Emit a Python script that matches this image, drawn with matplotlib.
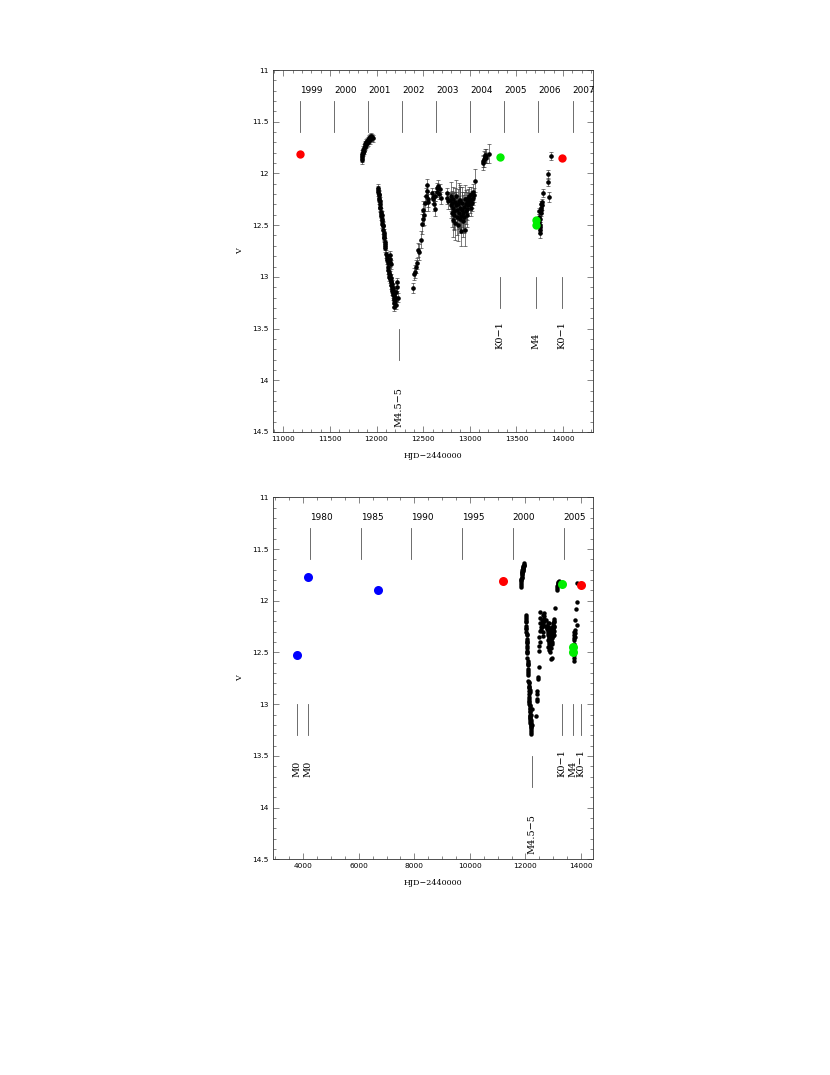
import matplotlib
matplotlib.use("Agg")
import matplotlib.pyplot as plt
from matplotlib.ticker import MultipleLocator, FormatStrFormatter

# ---------------- data ----------------
# season 2000
jd_a = [11840, 11843, 11846, 11849, 11852, 11856, 11860, 11864, 11868, 11872, 11876, 11880,
        11885, 11890, 11895, 11900, 11905, 11910, 11916, 11922, 11928, 11935, 11942, 11950, 11958]
v_a = [11.87, 11.85, 11.83, 11.81, 11.80, 11.79, 11.77, 11.78, 11.75, 11.74, 11.73, 11.72,
       11.72, 11.70, 11.71, 11.69, 11.68, 11.70, 11.67, 11.66, 11.68, 11.65, 11.64, 11.65, 11.66]
e_a = [0.035] * len(jd_a)

# season 2001 (decline)
jd_b = [12015, 12017, 12020, 12022, 12025, 12028, 12030, 12033, 12036, 12039, 12042, 12045,
        12048, 12051, 12054, 12057, 12060, 12063, 12066, 12069, 12072, 12075, 12078, 12081,
        12084, 12087, 12090, 12093, 12096, 12105, 12110, 12112, 12115, 12118, 12120, 12140,
        12143, 12146, 12150, 12125, 12130, 12135, 12138, 12142, 12148, 12152, 12155, 12158,
        12160, 12163, 12165, 12168, 12170, 12172, 12175, 12178, 12180, 12183, 12185, 12188,
        12190, 12192, 12195, 12198, 12200, 12205, 12210, 12215, 12220, 12225]
v_b = [12.14, 12.16, 12.18, 12.21, 12.20, 12.24, 12.26, 12.27, 12.30, 12.33, 12.32, 12.37,
       12.39, 12.41, 12.40, 12.44, 12.46, 12.49, 12.51, 12.50, 12.55, 12.58, 12.60, 12.62,
       12.61, 12.66, 12.68, 12.70, 12.72, 12.78, 12.80, 12.84, 12.82, 12.87, 12.90, 12.79,
       12.83, 12.86, 12.88, 12.93, 12.95, 12.97, 13.00, 12.98, 13.02, 13.05, 13.01, 13.08,
       13.04, 13.10, 13.07, 13.12, 13.14, 13.11, 13.16, 13.18, 13.13, 13.20, 13.22, 13.17,
       13.25, 13.29, 13.23, 13.19, 13.21, 13.15, 13.27, 13.10, 13.05, 13.20]
e_b = [0.04] * len(jd_b)

# season 2002 (recovery)
jd_c = [12387, 12405, 12412, 12423, 12430, 12447, 12452, 12476, 12484, 12494, 12501, 12510,
        12519, 12526, 12537, 12540, 12548, 12555, 12597, 12600, 12608, 12615, 12622, 12630,
        12644, 12652, 12660, 12670, 12680, 12687]
v_c = [13.11, 12.97, 12.95, 12.90, 12.87, 12.74, 12.76, 12.64, 12.49, 12.44, 12.35, 12.40,
       12.29, 12.22, 12.11, 12.17, 12.25, 12.28, 12.19, 12.23, 12.25, 12.30, 12.34, 12.22,
       12.14, 12.18, 12.12, 12.20, 12.15, 12.24]
e_c = [0.05, 0.06, 0.06, 0.06, 0.05, 0.07, 0.08, 0.08, 0.10, 0.07, 0.08, 0.10,
       0.07, 0.08, 0.06, 0.06, 0.07, 0.08, 0.05, 0.06, 0.05, 0.06, 0.07, 0.05,
       0.05, 0.05, 0.06, 0.05, 0.05, 0.06]

# season 2003 (noisy plateau)
jd_d = [12752, 12760, 12770, 12787, 12795, 12800, 12805, 12810, 12815, 12820, 12825, 12830,
        12835, 12840, 12845, 12850, 12855, 12860, 12865, 12870, 12875, 12880, 12885, 12890,
        12895, 12900, 12905, 12910, 12915, 12920, 12925, 12930, 12935, 12940, 12945, 12950,
        12955, 12960, 12965, 12970, 12975, 12980, 12985, 12990, 12995, 13000, 13005, 13010,
        13015, 13020, 13025, 13030, 13035, 13040, 13055]
v_d = [12.19, 12.24, 12.27, 12.26, 12.31, 12.22, 12.38, 12.29, 12.45, 12.33, 12.25, 12.40,
       12.36, 12.28, 12.48, 12.31, 12.22, 12.42, 12.35, 12.30, 12.50, 12.27, 12.38, 12.44,
       12.33, 12.26, 12.41, 12.56, 12.35, 12.29, 12.46, 12.38, 12.32, 12.42, 12.25, 12.55,
       12.36, 12.30, 12.40, 12.28, 12.34, 12.24, 12.31, 12.27, 12.22, 12.30, 12.26, 12.33,
       12.20, 12.25, 12.29, 12.18, 12.24, 12.21, 12.07]
e_d = [0.05, 0.06, 0.07, 0.08, 0.12, 0.14, 0.14, 0.12, 0.16, 0.14, 0.12, 0.15,
       0.18, 0.14, 0.16, 0.13, 0.16, 0.18, 0.14, 0.15, 0.15, 0.18, 0.16, 0.14,
       0.20, 0.15, 0.16, 0.14, 0.17, 0.16, 0.15, 0.17, 0.14, 0.16, 0.14, 0.15,
       0.13, 0.14, 0.12, 0.10, 0.11, 0.09, 0.10, 0.08, 0.09, 0.08, 0.07, 0.08,
       0.07, 0.08, 0.07, 0.08, 0.07, 0.07, 0.11]

# season 2004 (bright)
jd_e = [13140, 13145, 13150, 13158, 13163, 13170, 13175, 13208]
v_e = [11.88, 11.90, 11.86, 11.84, 11.82, 11.83, 11.85, 11.81]
e_e = [0.06, 0.07, 0.08, 0.05, 0.06, 0.07, 0.05, 0.09]

# season 2005/2006
jd_f = [13738, 13742, 13745, 13748, 13750, 13752, 13755, 13757, 13760, 13762, 13765, 13768,
        13771, 13774, 13787, 13834, 13841, 13851, 13866]
v_f = [12.36, 12.42, 12.47, 12.52, 12.55, 12.58, 12.50, 12.44, 12.38, 12.33, 12.30, 12.35,
       12.31, 12.28, 12.19, 12.08, 12.01, 12.23, 11.83]
e_f = [0.03, 0.03, 0.03, 0.03, 0.03, 0.04, 0.03, 0.03, 0.03, 0.03, 0.03, 0.03,
       0.04, 0.03, 0.04, 0.04, 0.04, 0.05, 0.04]

seasons = [(jd_a, v_a, e_a), (jd_b, v_b, e_b), (jd_c, v_c, e_c),
           (jd_d, v_d, e_d), (jd_e, v_e, e_e), (jd_f, v_f, e_f)]

red_jd = [11180, 13990]
red_v = [11.81, 11.85]
green_jd = [13325, 13708, 13708]
green_v = [11.84, 12.45, 12.50]
blue_jd = [3784, 4158, 6700]
blue_v = [12.525, 11.77, 11.90]

years_top = ["1999", "2000", "2001", "2002", "2003", "2004", "2005", "2006", "2007"]
years_top_jd = [11179, 11544, 11910, 12275, 12640, 13005, 13371, 13736, 14101]
years_bot = ["1980", "1985", "1990", "1995", "2000", "2005"]
years_bot_jd = [4239, 6066, 7892, 9718, 11544, 13371]

spec_top = ["M4.5\u22125", "K0\u22121", "M4", "K0\u22121"]
spec_top_jd = [12240, 13320, 13705, 13985]
spec_bot = ["M0", "M0", "M4.5\u22125", "K0\u22121", "M4", "K0\u22121"]
spec_bot_jd = [3784, 4169, 12240, 13320, 13705, 13985]

# ---------------- figure ----------------
plt.rcParams['font.family'] = ['DejaVu Sans']
SERIF = ['DejaVu Serif']
fig = plt.figure(figsize=(8.30, 10.75), dpi=100)
ax1 = fig.add_axes([0.3289, 0.59814, 0.3855, 0.33674])
ax2 = fig.add_axes([0.3289, 0.20065, 0.3855, 0.33674])

LC = '#555555'


def style(ax, xmaj, xmin):
    ax.set_ylim(14.5, 11)
    ax.xaxis.set_major_locator(MultipleLocator(xmaj))
    ax.xaxis.set_minor_locator(MultipleLocator(xmin))
    ax.yaxis.set_major_locator(MultipleLocator(0.5))
    ax.yaxis.set_minor_locator(MultipleLocator(0.1))
    ax.yaxis.set_major_formatter(FormatStrFormatter('%g'))
    ax.xaxis.set_major_formatter(FormatStrFormatter('%d'))
    ax.tick_params(which='both', direction='in', top=True, right=True,
                   labelsize=5.3, color=LC, width=0.5, pad=3)
    ax.tick_params(which='major', length=4)
    ax.tick_params(which='minor', length=2)
    for s in ax.spines.values():
        s.set_linewidth(0.6)
        s.set_color('#333333')
    ax.set_xlabel("HJD\u22122440000", fontsize=5.8, labelpad=7, family=SERIF)
    ax.set_ylabel("V", fontsize=5.8, labelpad=6, family=SERIF)


def marks(ax, years, years_jd, specs, specs_jd):
    for lab, x in zip(years, years_jd):
        ax.plot([x, x], [11.3, 11.6], color=LC, lw=0.6)
        ax.text(x, 11.2, lab, ha='left', va='center', fontsize=6.4)
    for lab, x in zip(specs, specs_jd):
        if lab.startswith("M4.5"):
            y0, y1, yt = 13.5, 13.8, 14.45
        else:
            y0, y1, yt = 13.0, 13.3, 13.7
        ax.plot([x, x], [y0, y1], color=LC, lw=0.6)
        ax.text(x, yt, lab, rotation=90, ha='center', va='bottom', fontsize=7,
                family=SERIF)


# top panel
ax1.set_xlim(10890, 14320)
for jd, v, e in seasons:
    ax1.errorbar(jd, v, yerr=e, fmt='o', ms=2.3, mfc='black', mec='black',
                 ecolor='#333333', elinewidth=0.45, capsize=1.6, capthick=0.45, zorder=3)
ax1.plot(red_jd, red_v, 'o', ms=6, color='#ff0000', mec='none', zorder=4)
ax1.plot(green_jd, green_v, 'o', ms=6, color='#00ee00', mec='none', zorder=4)
marks(ax1, years_top, years_top_jd, spec_top, spec_top_jd)
style(ax1, 500, 100)

# bottom panel
ax2.set_xlim(2910, 14430)
for jd, v, e in seasons:
    ax2.plot(jd, v, 'o', ms=3.2, color='black', mec='none', zorder=3)
ax2.plot(red_jd, red_v, 'o', ms=6.5, color='#ff0000', mec='none', zorder=4)
ax2.plot(green_jd, green_v, 'o', ms=6.5, color='#00ee00', mec='none', zorder=4)
ax2.plot(blue_jd, blue_v, 'o', ms=6.5, color='#0000ff', mec='none', zorder=4)
marks(ax2, years_bot, years_bot_jd, spec_bot, spec_bot_jd)
style(ax2, 2000, 500)

fig.savefig("out.png", dpi=100)
